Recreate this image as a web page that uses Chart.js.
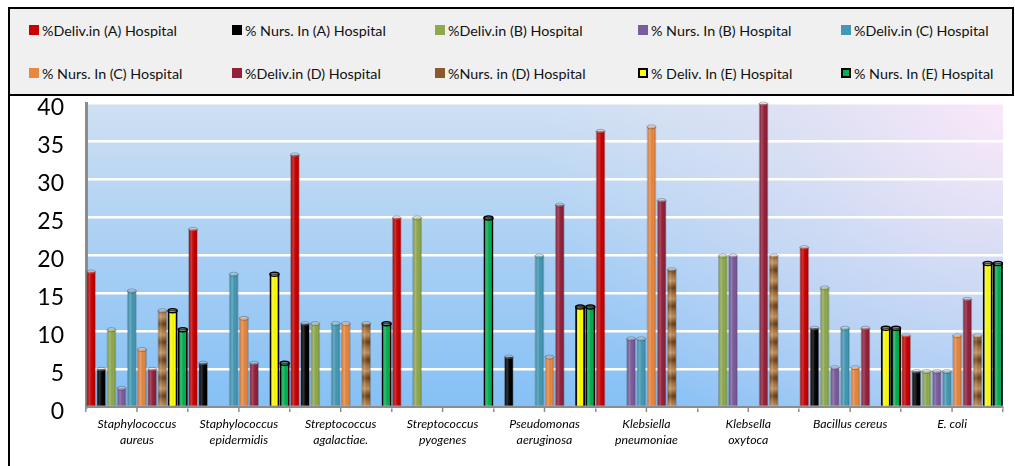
<!DOCTYPE html>
<html>
<head>
<meta charset="utf-8">
<script src="https://cdn.jsdelivr.net/npm/chart.js@4"></script>
<style>
    body { margin: 0; background: #fff; width: 1015px; height: 466px; overflow: hidden; position: relative; font-family: Lato, "Open Sans", sans-serif; }
    #frame { position: absolute; left: 8px; top: 7px; width: 1004px; height: 470px; border-left: 2px solid #000; border-top: 2px solid #000; }
    #legend { position: absolute; left: 0; top: 0; width: 1004px; height: 87px; background: #f0f0f0; border-bottom: 2px solid #000; border-right: 2px solid #000; z-index: 2;
              display: grid; grid-template-columns: repeat(5, 203px); grid-template-rows: 42px 44px; padding-left: 19px; box-sizing: border-box; }
    .item { display: flex; align-items: center; font-size: 14.3px; color: #111; white-space: nowrap; }
    .box { width: 10px; height: 10px; margin-right: 3px; box-sizing: border-box; }
    #wrap { position: absolute; left: 0; top: 81px; width: 1002px; height: 386px; }
</style>
</head>
<body>
<div id="frame">
    <div id="legend"></div>
    <div id="wrap"><canvas id="bacteria" width="1002" height="378"></canvas></div>
</div>
<script>
const categories = [
    ['Staphylococcus', 'aureus'], ['Staphylococcus', 'epidermidis'], ['Streptococcus', 'agalactiae.'],
    ['Streptococcus', 'pyogenes'], ['Pseudomonas', 'aeruginosa'], ['Klebsiella', 'pneumoniae'],
    ['Klebsella', 'oxytoca'], 'Bacillus cereus', 'E. coli'
];
const seriesNames = [
    '%Deliv.in (A) Hospital', '% Nurs. In (A) Hospital', '%Deliv.in (B) Hospital', '% Nurs. In (B) Hospital',
    '%Deliv.in (C) Hospital', '% Nurs. In (C) Hospital', '%Deliv.in (D) Hospital', '%Nurs. in (D) Hospital',
    '% Deliv. In (E) Hospital', '% Nurs. In (E) Hospital'
];
const delivA = [17.9, 23.5, 33.3, 25, 0, 36.4, 0, 21.1, 9.5];
const nursA  = [5.1, 5.9, 11.1, 0, 6.7, 0, 0, 10.5, 4.8];
const delivB = [10.3, 0, 11.1, 25, 0, 0, 20, 15.8, 4.8];
const nursB  = [2.6, 0, 0, 0, 0, 9.1, 20, 5.3, 4.8];
const delivC = [15.4, 17.6, 11.1, 0, 20, 9.1, 0, 10.5, 4.8];
const nursC  = [7.7, 11.8, 11.1, 0, 6.7, 37, 0, 5.3, 9.5];
const delivD = [5.1, 5.9, 0, 0, 26.7, 27.3, 40, 10.5, 14.3];
const nursD  = [12.8, 0, 11.1, 0, 0, 18.2, 20, 0, 9.5];
const delivE = [12.8, 17.6, 0, 0, 13.3, 0, 0, 10.5, 19];
const nursE  = [10.3, 5.9, 11.1, 25, 13.3, 0, 0, 10.5, 19];
const yTicks = [0, 5, 10, 15, 20, 25, 30, 35, 40];

const allData = [delivA, nursA, delivB, nursB, delivC, nursC, delivD, nursD, delivE, nursE];
const colors = ['#c80000', '#000000', '#8faa4e', '#7b5c9c', '#4399b5', '#e8873f', '#94203a', '#8b5a2b', '#ffff00', '#00b050'];

// wood-ish texture for the D nursery bars
function woodPattern() {
    var c = document.createElement('canvas');
    c.width = 10; c.height = 18;
    var g = c.getContext('2d');
    var grd = g.createLinearGradient(0, 0, 0, 18);
    grd.addColorStop(0, '#6b3f17');
    grd.addColorStop(0.3, '#a5703c');
    grd.addColorStop(0.6, '#c4915a');
    grd.addColorStop(0.85, '#8d5a28');
    grd.addColorStop(1, '#6b3f17');
    g.fillStyle = grd; g.fillRect(0, 0, 10, 18);
    return g.createPattern(c, 'repeat');
}

const datasets = allData.map(function(d, i) {
    var isE = i >= 8;
    return {
        label: seriesNames[i],
        data: d,
        backgroundColor: i == 7 ? woodPattern() : colors[i],
        borderColor: isE ? '#000' : 'rgba(0,0,0,0.2)',
        borderWidth: isE ? 2 : 1,
        barPercentage: 0.98,
        categoryPercentage: 1.0,
    };
});

// html legend, 2 rows x 5 columns
var legend = document.getElementById('legend');
seriesNames.forEach(function(name, i) {
    var el = document.createElement('div');
    el.className = 'item';
    var box = document.createElement('span');
    box.className = 'box';
    box.style.background = i == 7 ? '#8b5a2b' : colors[i];
    if (i >= 8) box.style.border = '2px solid #000';
    el.appendChild(box);
    el.appendChild(document.createTextNode(name));
    legend.appendChild(el);
});

const plotBg = {
    id: 'plotBg',
    beforeDraw(chart) {
        var a = chart.chartArea, ctx = chart.ctx;
        var w = a.right - a.left, h = a.bottom - a.top;
        ctx.save();
        var g = ctx.createLinearGradient(0, a.bottom, 0, a.top);
        g.addColorStop(0, '#86c0f5');
        g.addColorStop(0.5, '#a8cff4');
        g.addColorStop(1, '#cfe0f2');
        ctx.fillStyle = g;
        ctx.fillRect(a.left, a.top, w, h);
        // pinkish glow at top right
        var r = ctx.createRadialGradient(a.right, a.top, 0, a.right, a.top, 460);
        r.addColorStop(0, 'rgba(252,232,250,0.95)');
        r.addColorStop(0.45, 'rgba(240,228,245,0.5)');
        r.addColorStop(1, 'rgba(240,228,245,0)');
        ctx.fillStyle = r;
        ctx.fillRect(a.left, a.top, w, h);
        ctx.restore();
    }
};

// cylinder shading + top cap
const barShade = {
    id: 'barShade',
    afterDatasetsDraw(chart) {
        var ctx = chart.ctx;
        ctx.save();
        chart.data.datasets.forEach(function(ds, i) {
            chart.getDatasetMeta(i).data.forEach(function(bar) {
                var h = bar.base - bar.y;
                if (h < 2) return;
                var l = bar.x - bar.width / 2, r = bar.x + bar.width / 2;
                var g = ctx.createLinearGradient(l, 0, r, 0);
                g.addColorStop(0, 'rgba(0,0,0,0.18)');
                g.addColorStop(0.35, 'rgba(255,255,255,0.2)');
                g.addColorStop(0.7, 'rgba(0,0,0,0.0)');
                g.addColorStop(1, 'rgba(0,0,0,0.25)');
                ctx.fillStyle = g;
                ctx.fillRect(l + 1, bar.y + 1, bar.width - 2, h - 1);
                ctx.beginPath();
                ctx.ellipse(bar.x, bar.y + 1, bar.width / 2 - 0.5, 2, 0, 0, Math.PI * 2);
                ctx.fillStyle = 'rgba(255,255,255,0.25)';
                ctx.fill();
                ctx.lineWidth = i >= 8 ? 1.5 : 0.8;
                ctx.strokeStyle = i >= 8 ? '#000' : 'rgba(0,0,0,0.35)';
                ctx.stroke();
            });
        });
        ctx.restore();
    }
};

// extra tick marks at the middle of every category
const midTicks = {
    id: 'midTicks',
    afterDraw(chart) {
        var x = chart.scales.x, ctx = chart.ctx;
        ctx.save();
        ctx.strokeStyle = '#8c8c8c';
        ctx.lineWidth = 1.5;
        categories.forEach(function(c, i) {
            var px = x.getPixelForValue(i);
            ctx.beginPath();
            ctx.moveTo(px, x.top);
            ctx.lineTo(px, x.top + 5);
            ctx.stroke();
        });
        ctx.restore();
    }
};

new Chart(document.getElementById('bacteria'), {
    type: 'bar',
    data: { labels: categories, datasets: datasets },
    options: {
        responsive: false,
        animation: false,
        layout: { padding: { top: 13, right: 9, left: 0, bottom: 0 } },
        plugins: { legend: { display: false }, tooltip: { enabled: false } },
        scales: {
            x: {
                grid: { display: true, drawOnChartArea: false, offset: true, tickLength: 5, color: '#8c8c8c', lineWidth: 1.5 },
                border: { color: '#8c8c8c', width: 2 },
                ticks: { color: '#000', padding: 4, maxRotation: 0, autoSkip: false,
                         font: { family: 'Lato', size: 12.3, style: 'italic', lineHeight: 1.3 } },
                afterFit(s) { s.height = 61; s.paddingLeft = 0; s.paddingRight = 0; }
            },
            y: {
                min: 0, max: 40,
                afterBuildTicks(s) { s.ticks = yTicks.map(function(v) { return { value: v }; }); },
                grid: { color: '#ffffff', lineWidth: 2.5, drawTicks: false },
                border: { color: '#8c8c8c', width: 3 },
                ticks: { color: '#000', padding: 22, labelOffset: 5, font: { family: 'Lato', size: 23 } },
                afterFit(s) { s.width = 76; s.paddingTop = 0; s.paddingBottom = 0; }
            }
        }
    },
    plugins: [plotBg, barShade, midTicks]
});
</script>
</body>
</html>
